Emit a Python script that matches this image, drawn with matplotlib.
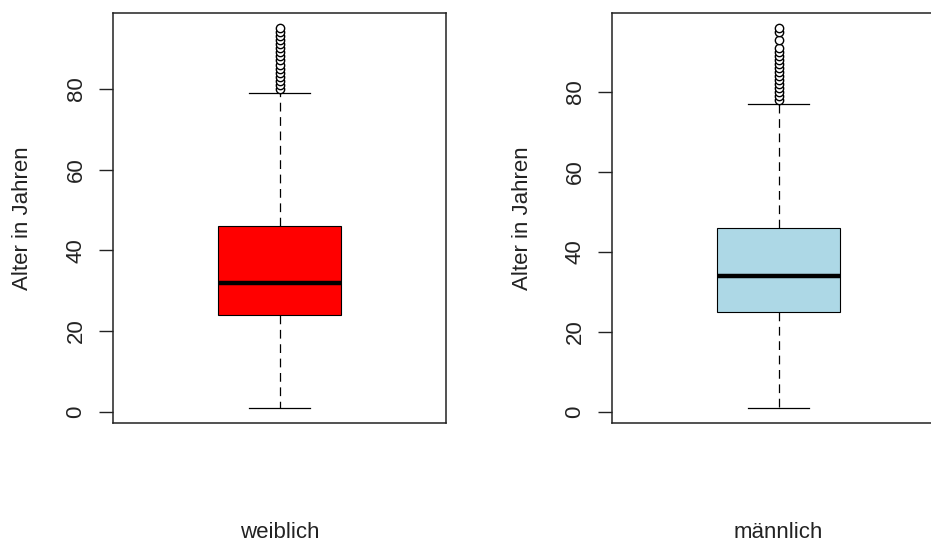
import matplotlib
matplotlib.use("Agg")
import matplotlib.pyplot as plt

plt.rcParams['font.family'] = ['Liberation Sans', 'DejaVu Sans']

# Summary statistics of age (years) by sex
groups = ["weiblich", "männlich"]
box_colors = ["#FF0000", "#ADD8E6"]

whisker_low = [1, 1]
q1 = [24, 25]
median = [32, 34]
q3 = [46, 46]
whisker_high = [79, 77]
outliers_w = [80, 81, 82, 83, 84, 85, 86, 87, 88, 89, 90, 91, 92, 93, 94, 95]
outliers_m = [78, 79, 80, 81, 82, 83, 84, 85, 86, 87, 88, 89, 90, 91, 93, 95, 96]
outliers = [outliers_w, outliers_m]

y_ticks = [0, 20, 40, 60, 80]
y_label = "Alter in Jahren"

W, H = 931, 542
fig = plt.figure(figsize=(W / 100, H / 100), dpi=100)

ax_left_px = [113, 612]
ax_w_px = 333
ax_top_px, ax_bot_px = 13, 423

FS = 16

for i, name in enumerate(groups):
    ax = fig.add_axes([ax_left_px[i] / W, (H - ax_bot_px) / H,
                       ax_w_px / W, (ax_bot_px - ax_top_px) / H])
    stats = [dict(med=median[i], q1=q1[i], q3=q3[i],
                  whislo=whisker_low[i], whishi=whisker_high[i],
                  fliers=outliers[i])]
    ax.bxp(stats, positions=[1], widths=0.4, capwidths=0.2,
           patch_artist=True,
           boxprops=dict(facecolor=box_colors[i], edgecolor="black", linewidth=0.8),
           medianprops=dict(color="black", linewidth=3.2, solid_capstyle="butt"),
           whiskerprops=dict(color="black", linewidth=0.9, linestyle=(0, (7, 4.5))),
           capprops=dict(color="black", linewidth=0.9),
           flierprops=dict(marker="o", markersize=6.0, markerfacecolor="white",
                           markeredgecolor="black", markeredgewidth=1.0))
    data_min = whisker_low[i]
    data_max = max(outliers[i])
    rng = data_max - data_min
    ax.set_ylim(data_min - 0.04 * rng, data_max + 0.04 * rng)
    ax.set_xlim(0.46, 1.54)
    ax.set_xticks([])
    ax.set_yticks(y_ticks)
    ax.set_yticklabels([str(t) for t in y_ticks], rotation=90, va="center",
                       fontsize=FS, color="#222222")
    ax.tick_params(axis="y", length=10, width=1.0, pad=9, color="#222222")
    for s in ax.spines.values():
        s.set_linewidth(1.1)
        s.set_color("#222222")
    ax.text(-90 / ax_w_px, 0.5, y_label, transform=ax.transAxes, rotation=90,
            ha="center", va="center", fontsize=FS, color="#222222")
    ax.text(0.5, -(538 - ax_bot_px) / (ax_bot_px - ax_top_px), name,
            transform=ax.transAxes, ha="center", va="baseline",
            fontsize=FS, color="#222222")

fig.savefig("out.png", dpi=100)
